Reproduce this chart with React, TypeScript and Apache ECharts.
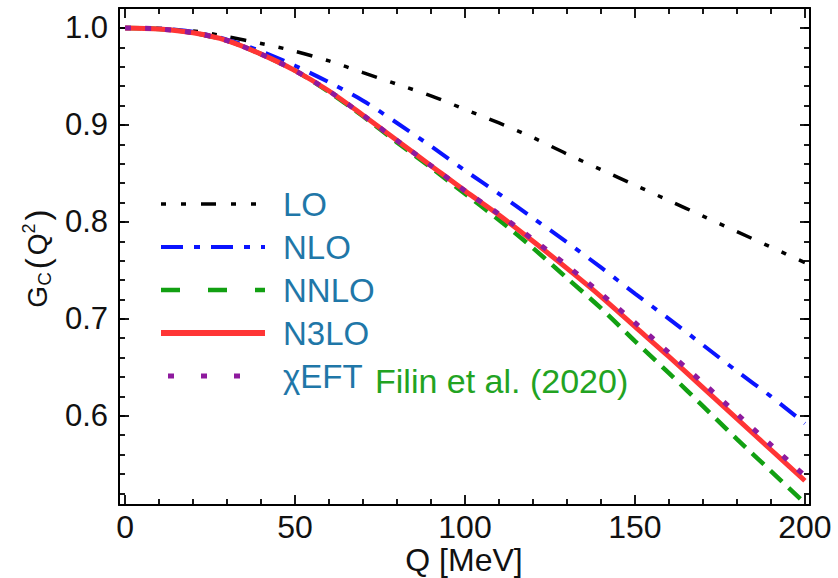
import React, { useEffect, useRef } from "react";
import * as echarts from "echarts";

const Q_VALUES = [0, 10, 20, 30, 40, 50, 60, 70, 80, 90, 100, 110, 120, 130, 140, 150, 160, 170, 180, 190, 200];
const LO = [1.0, 0.999, 0.997, 0.991, 0.984, 0.976, 0.966, 0.954, 0.942, 0.93, 0.916, 0.902, 0.887, 0.87, 0.854, 0.838, 0.822, 0.806, 0.79, 0.774, 0.758];
const NLO = [1.0, 0.9995, 0.996, 0.988, 0.976, 0.961, 0.944, 0.925, 0.902, 0.878, 0.853, 0.829, 0.804, 0.779, 0.753, 0.726, 0.7, 0.673, 0.646, 0.62, 0.592];
const NNLO = [1.0, 0.999, 0.995, 0.987, 0.973, 0.956, 0.934, 0.909, 0.882, 0.856, 0.829, 0.802, 0.773, 0.742, 0.711, 0.677, 0.644, 0.61, 0.576, 0.543, 0.51];
const N3LO = [1.0, 0.999, 0.995, 0.987, 0.973, 0.956, 0.935, 0.91, 0.884, 0.858, 0.832, 0.807, 0.78, 0.752, 0.723, 0.692, 0.661, 0.629, 0.597, 0.565, 0.533];
const CHIEFT = [1.0, 0.999, 0.995, 0.987, 0.973, 0.956, 0.935, 0.91, 0.884, 0.858, 0.832, 0.808, 0.782, 0.755, 0.726, 0.696, 0.665, 0.634, 0.602, 0.57, 0.538];

const SERIES_NAMES = ["LO", "NLO", "NNLO", "N3LO", "χEFT"];
const X_MIN = -1.8;
const X_MAX = 201.5;
const Y_MIN = 0.508;
const Y_MAX = 1.0206;
const X_TICK_MIN = 0;
const X_TICK_MAX = 200;
const X_MAJOR_STEP = 50;
const X_MINOR_SPLIT = 5;
const Y_MINOR_MIN = 0.52;
const Y_MINOR_STEP = 0.02;
const Y_MAJOR_MIN = 0.6;
const Y_MAJOR_STEP = 0.1;
const Y_TICK_MAX = 1.0;
const X_TITLE = "Q [MeV]";
const ANNOTATION = "Filin et al. (2020)";

const FONT = "'Liberation Sans', Arial, Helvetica, sans-serif";

function pairs(ys: number[]) {
  return Q_VALUES.map((q, i) => [q, ys[i]]);
}

export default function App() {
  const ref = useRef<HTMLDivElement>(null);
  useEffect(() => {
    if (!ref.current) return;
    const chart = echarts.init(ref.current, null, { renderer: "svg" });

    const W = 838;
    const H = 578;
    const plotL = 119, plotR = 810, plotT = 8, plotB = 505;
    const xPx = (v: number) => plotL + ((v - X_MIN) / (X_MAX - X_MIN)) * (plotR - plotL);
    const yPx = (v: number) => plotB - ((v - Y_MIN) / (Y_MAX - Y_MIN)) * (plotB - plotT);

    const tickLine = { color: "#000", width: 1.8 };
    const frameLine = { color: "#000", width: 2 };
    const invisibleLine = { show: true, onZero: false, lineStyle: { color: "#000", width: 1, opacity: 0 } };
    const hidden = { show: false };

    const grids = [
      { left: plotL, right: W - plotR, top: plotT, bottom: H - plotB },
      { left: xPx(X_TICK_MIN), right: W - xPx(X_TICK_MAX), top: plotT, bottom: H - plotB },
      { left: plotL, right: W - plotR, top: yPx(Y_TICK_MAX), bottom: H - yPx(Y_MINOR_MIN) },
      { left: plotL, right: W - plotR, top: yPx(Y_TICK_MAX), bottom: H - yPx(Y_MAJOR_MIN) },
    ];

    const frameX = (position: string) => ({
      type: "value", gridIndex: 0, min: X_MIN, max: X_MAX, position,
      axisLine: { show: true, onZero: false, lineStyle: frameLine },
      axisTick: hidden, axisLabel: hidden, splitLine: hidden,
    });
    const frameY = (position: string) => ({
      type: "value", gridIndex: 0, min: Y_MIN, max: Y_MAX, position,
      axisLine: { show: true, onZero: false, lineStyle: frameLine },
      axisTick: hidden, axisLabel: hidden, splitLine: hidden,
    });
    const tickX = (position: string, labels: boolean) => ({
      type: "value", gridIndex: 1, min: X_TICK_MIN, max: X_TICK_MAX, interval: X_MAJOR_STEP, position,
      axisLine: invisibleLine,
      axisTick: { show: true, inside: true, length: 10, lineStyle: tickLine },
      minorTick: { show: true, splitNumber: X_MINOR_SPLIT, length: 6, lineStyle: tickLine },
      axisLabel: labels
        ? { show: true, fontSize: 32, lineHeight: 26, fontFamily: FONT, color: "#111", margin: 9 }
        : hidden,
      splitLine: hidden, minorSplitLine: hidden,
    });
    const tickYMinor = (position: string) => ({
      type: "value", gridIndex: 2, min: Y_MINOR_MIN, max: Y_TICK_MAX, interval: Y_MINOR_STEP, position,
      axisLine: invisibleLine,
      axisTick: { show: true, inside: true, length: 6, lineStyle: tickLine },
      axisLabel: hidden, splitLine: hidden,
    });
    const tickYMajor = (position: string, labels: boolean) => ({
      type: "value", gridIndex: 3, min: Y_MAJOR_MIN, max: Y_TICK_MAX, interval: Y_MAJOR_STEP, position,
      axisLine: invisibleLine,
      axisTick: { show: true, inside: true, length: 10, lineStyle: tickLine },
      axisLabel: labels
        ? { show: true, fontSize: 31, fontFamily: FONT, color: "#111", margin: 11, formatter: (v: number) => v.toFixed(1) }
        : hidden,
      splitLine: hidden,
    });
    const hiddenX = (gridIndex: number) => ({ type: "value", gridIndex, show: false, min: 0, max: 1 });
    const hiddenY = (gridIndex: number) => ({ type: "value", gridIndex, show: false, min: 0, max: 1 });

    const styles = [
      { color: "#000000", width: 3.5, type: [5, 14, 5, 14, 16, 14] },
      { color: "#0a14ff", width: 4, type: [20, 11, 6, 11] },
      { color: "#12a012", width: 4.5, type: [16, 9] },
      { color: "#ff3535", width: 5, type: "solid" },
      { color: "#8e1a9e", width: 5, type: [6, 14] },
    ];
    const legendStyles: any[] = [
      { type: [5, 15, 5, 15, 15, 15] },
      { type: [22, 11, 6, 11] },
      { type: [19, 28] },
      { type: "solid", width: 6 },
      { type: [6, 27], dashOffset: 26 },
    ];
    const dataSets = [LO, NLO, NNLO, N3LO, CHIEFT];

    chart.setOption({
      animation: false,
      grid: grids,
      xAxis: [
        frameX("bottom"),
        frameX("top"),
        tickX("bottom", true),
        tickX("top", false),
        hiddenX(2),
        hiddenX(3),
      ],
      yAxis: [
        frameY("left"),
        frameY("right"),
        hiddenY(1),
        tickYMinor("left"),
        tickYMinor("right"),
        tickYMajor("left", true),
        tickYMajor("right", false),
      ],
      legend: {
        show: true,
        orient: "vertical",
        left: 158,
        top: 186,
        padding: 0,
        itemWidth: 104,
        itemHeight: 14,
        itemGap: 7,
        selectedMode: false,
        textStyle: {
          fontSize: 33,
          fontFamily: FONT,
          color: "#1f77a8",
          lineHeight: 30,
          padding: [0, 0, 6, 13],
        },
        data: SERIES_NAMES.map((name, i) => ({
          name,
          itemStyle: { opacity: 0 },
          lineStyle: { ...legendStyles[i], color: styles[i].color, width: legendStyles[i].width ?? styles[i].width },
        })),
      },
      series: SERIES_NAMES.map((name, i) => ({
        name,
        type: "line",
        data: pairs(dataSets[i]),
        xAxisIndex: 0,
        yAxisIndex: 0,
        smooth: 0.3,
        symbol: "none",
        showSymbol: false,
        clip: true,
        color: styles[i].color,
        lineStyle: { color: styles[i].color, width: styles[i].width, type: styles[i].type as any, cap: "butt" },
        z: 2 + i,
      })),
      graphic: [
        {
          type: "text",
          x: 375,
          y: 381,
          style: {
            text: ANNOTATION,
            fontSize: 34,
            fontFamily: FONT,
            fill: "#22a322",
            align: "left",
            verticalAlign: "middle",
          },
        },
        {
          type: "text",
          x: 464,
          y: 560,
          style: {
            text: X_TITLE,
            fontSize: 32,
            lineHeight: 26,
            fontFamily: FONT,
            fill: "#111",
            align: "center",
            verticalAlign: "middle",
          },
        },
        {
          type: "text",
          x: 37,
          y: 257,
          rotation: Math.PI / 2,
          style: {
            text: "{g|G}{c|C}{p|(}{g|Q}{s|2}{p|)}",
            align: "center",
            verticalAlign: "middle",
            fill: "#111",
            rich: {
              g: { fontSize: 28, fontFamily: FONT, fill: "#111", lineHeight: 34 },
              c: { fontSize: 19, fontFamily: FONT, fill: "#111", lineHeight: 17, verticalAlign: "bottom" },
              p: { fontSize: 33, fontFamily: FONT, fill: "#111", lineHeight: 34, padding: [0, 3, 0, 3] },
              s: { fontSize: 18, fontFamily: FONT, fill: "#111", lineHeight: 8, verticalAlign: "top" },
            },
          },
        },
      ],
    });
    return () => chart.dispose();
  }, []);
  return <div ref={ref} style={{ position: "fixed", left: 0, top: 0, width: 838, height: 578, background: "#fff" }} />;
}
